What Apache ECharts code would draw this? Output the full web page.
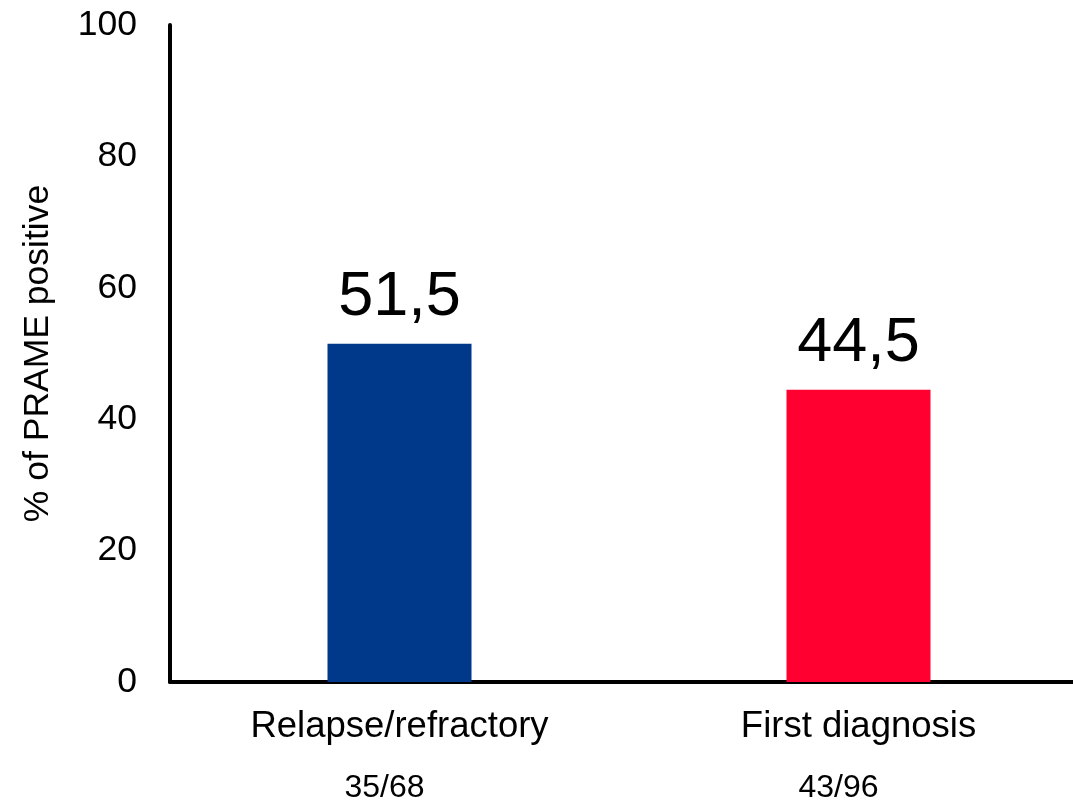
<!DOCTYPE html>
<html>
<head>
<meta charset="utf-8">
<title>% of PRAME positive</title>
<script src="https://cdn.jsdelivr.net/npm/echarts@6/dist/echarts.min.js"></script>
<style>
  html, body { margin: 0; padding: 0; background: #ffffff; }
  #chart { width: 1073px; height: 803px; }
</style>
</head>
<body>
<div id="chart"></div>
<script>
// Patient groups, percentage PRAME positive, and positive/total counts
const categories = ['Relapse/refractory', 'First diagnosis'];
const percentPositive = [51.5, 44.5];
const counts = ['35/68', '43/96'];
const barColors = ['#00388A', '#FF0030'];
const yTicks = { min: 0, max: 100, step: 20 };

const FONT = '"Liberation Sans", Arial, Helvetica, sans-serif';

const chart = echarts.init(document.getElementById('chart'), null, { renderer: 'canvas' });

chart.setOption({
  animation: false,
  backgroundColor: '#ffffff',
  // plot area runs past the right edge so the x axis line is cut by the canvas
  grid: { left: 170, top: 25, width: 918, bottom: 121, containLabel: false, outerBoundsMode: 'none' },
  xAxis: {
    type: 'category',
    data: categories,
    axisLine: { show: true, lineStyle: { color: '#000', width: 4 } },
    axisTick: { show: false },
    splitLine: { show: false },
    axisLabel: {
      margin: 15,
      interval: 0,
      formatter: function (value, idx) {
        return '{a|' + value + '}\n{b' + idx + '|' + counts[idx] + '}';
      },
      rich: {
        a: { fontFamily: FONT, fontSize: 36.5, lineHeight: 60, color: '#000' },
        // counts sit a little left of the category centre
        b0: { fontFamily: FONT, fontSize: 32, lineHeight: 62, color: '#000', padding: [0, 30, 0, 0] },
        b1: { fontFamily: FONT, fontSize: 32, lineHeight: 62, color: '#000', padding: [0, 40, 0, 0] }
      }
    }
  },
  yAxis: {
    type: 'value',
    min: yTicks.min,
    max: yTicks.max,
    interval: yTicks.step,
    name: '% of PRAME positive',
    nameLocation: 'middle',
    nameRotate: 90,
    nameGap: 114,
    nameTextStyle: { fontFamily: FONT, fontSize: 35.5, color: '#000', lineHeight: 36 },
    axisLine: { show: true, lineStyle: { color: '#000', width: 4 } },
    axisTick: { show: false },
    splitLine: { show: false },
    axisLabel: { margin: 33, fontFamily: FONT, fontSize: 35.5, color: '#000' }
  },
  series: [{
    type: 'bar',
    barWidth: 144,
    data: percentPositive.map((v, i) => ({ value: v, itemStyle: { color: barColors[i] } })),
    label: {
      show: true,
      position: 'top',
      distance: 15,
      fontFamily: FONT,
      fontSize: 63,
      lineHeight: 63,
      color: '#000',
      formatter: p => String(p.value).replace('.', ',')
    }
  }]
});
</script>
</body>
</html>
